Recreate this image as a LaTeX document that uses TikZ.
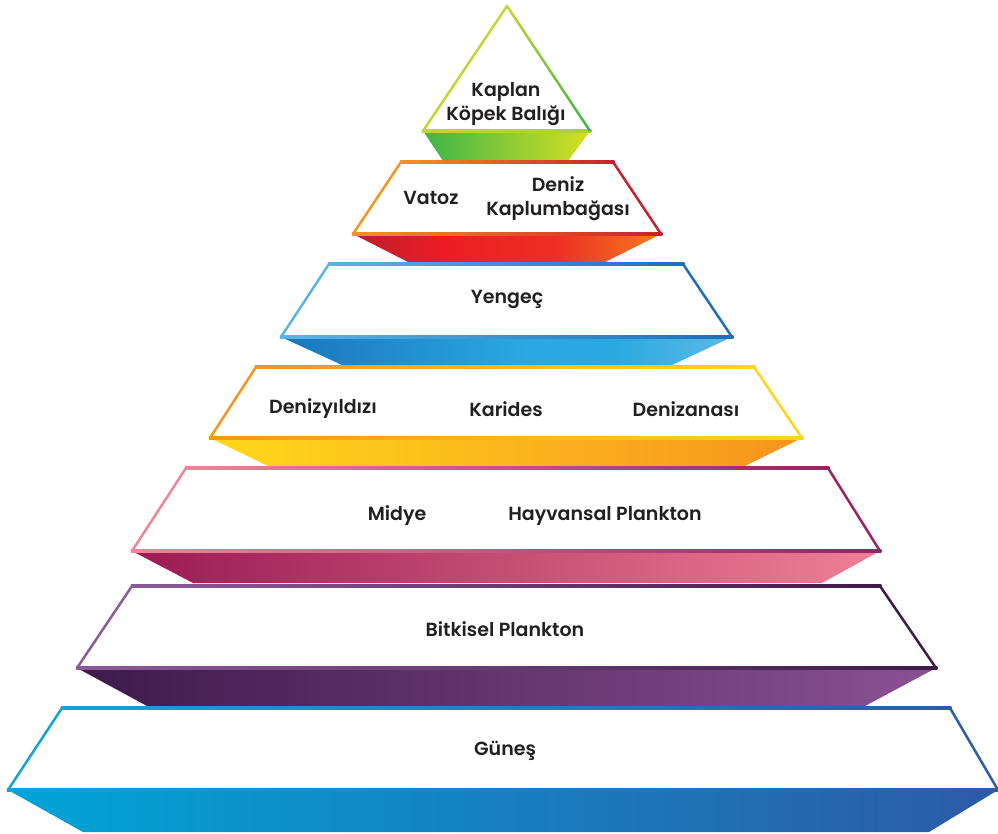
\documentclass[tikz,border=0pt]{standalone}
\usepackage{fontspec}
\setmainfont{Poppins}[BoldFont={Poppins SemiBold}]
\definecolor{txt}{HTML}{231F20}
% level 1 (green)
\definecolor{gA}{HTML}{3DB54A}\definecolor{gB}{HTML}{D7DF23}\definecolor{gL}{HTML}{C2D62E}
% level 2 (red)
\definecolor{rA}{HTML}{BE1E2D}\definecolor{rB}{HTML}{ED1C24}\definecolor{rC}{HTML}{F47B20}
\definecolor{rL}{HTML}{F7941D}\definecolor{rR}{HTML}{C8202F}
% level 3 (blue)
\definecolor{bA}{HTML}{1B75BB}\definecolor{bB}{HTML}{29A9E0}\definecolor{bC}{HTML}{5DB9E7}
\definecolor{bL}{HTML}{5BB4E5}\definecolor{bR}{HTML}{1C6FB8}
% level 4 (yellow)
\definecolor{yA}{HTML}{FFD91A}\definecolor{yC}{HTML}{F7941D}
\definecolor{yL}{HTML}{F7941D}\definecolor{yR}{HTML}{FFD51C}
% level 5 (magenta)
\definecolor{mA}{HTML}{9B1B53}\definecolor{mC}{HTML}{F07F95}
\definecolor{mL}{HTML}{F08497}\definecolor{mR}{HTML}{9E1F63}
% level 6 (purple)
\definecolor{pA}{HTML}{3E1A4C}\definecolor{pC}{HTML}{8A5193}
\definecolor{pL}{HTML}{8B5A9A}\definecolor{pR}{HTML}{3F1A4A}
% level 7 (sea blue)
\definecolor{cA}{HTML}{00A5D6}\definecolor{cC}{HTML}{2D5AA6}
\definecolor{cL}{HTML}{12A3D8}\definecolor{cR}{HTML}{2B5DA8}
\pgfdeclarehorizontalshading{redsh}{100bp}{color(0bp)=(rA); color(25bp)=(rA); color(40bp)=(rB); color(58bp)=(rB!80!rC); color(75bp)=(rC); color(100bp)=(rC)}
\pgfdeclarehorizontalshading{bluesh}{100bp}{color(0bp)=(bA); color(25bp)=(bA); color(52bp)=(bB); color(62bp)=(bB); color(75bp)=(bC); color(100bp)=(bC)}
\tikzset{
  lbl/.style={text=txt, font=\fontsize{19}{24}\selectfont\bfseries, align=center, inner sep=0pt},
  edge/.style={line width=2.5pt, line cap=round}
}
\newcommand\pyrlevel[4]{%
  \shade[#4] (#1ml) -- (#1mr) -- (#1br) -- (#1bl) -- cycle;
  \fill[white] (#1tl) -- (#1tr) -- (#1mr) -- (#1ml) -- cycle;
  \shade[left color=#2, right color=#3] ([shift={(-1.25,-1.25)}]#1tl) rectangle ([shift={(1.25,1.25)}]#1tr);
  \shade[left color=#2, right color=#3] ([shift={(-1.25,-1.25)}]#1ml) rectangle ([shift={(1.25,1.25)}]#1mr);
  \draw[#2, edge] (#1tl) -- (#1ml);
  \draw[#3, edge] (#1tr) -- (#1mr);
}
\begin{document}
\begin{tikzpicture}[x=1pt, y=-1pt]
\useasboundingbox (0,0) rectangle (998,833);
% ---------- coordinates ----------
% level A (triangle)
\coordinate (Aap) at (507,6);
\coordinate (Aml) at (423,131); \coordinate (Amr) at (590,131);
\coordinate (Abl) at (443,161); \coordinate (Abr) at (568,161);
% level B
\coordinate (Btl) at (401,162); \coordinate (Btr) at (613,162);
\coordinate (Bml) at (353,234); \coordinate (Bmr) at (661,234);
\coordinate (Bbl) at (410,263); \coordinate (Bbr) at (603,263);
% level C
\coordinate (Ctl) at (329,264); \coordinate (Ctr) at (683,264);
\coordinate (Cml) at (281,337); \coordinate (Cmr) at (732,337);
\coordinate (Cbl) at (342,365); \coordinate (Cbr) at (672,365);
% level D
\coordinate (Dtl) at (256,367); \coordinate (Dtr) at (754,367);
\coordinate (Dml) at (210,438); \coordinate (Dmr) at (802,438);
\coordinate (Dbl) at (270,467); \coordinate (Dbr) at (743,467);
% level E
\coordinate (Etl) at (186,468); \coordinate (Etr) at (828,468);
\coordinate (Eml) at (132,551); \coordinate (Emr) at (880,551);
\coordinate (Ebl) at (193,583); \coordinate (Ebr) at (822,583);
% level F
\coordinate (Ftl) at (132,586); \coordinate (Ftr) at (880,586);
\coordinate (Fml) at (77,668);  \coordinate (Fmr) at (936,668);
\coordinate (Fbl) at (147,706); \coordinate (Fbr) at (865,706);
% level G
\coordinate (Gtl) at (62,708);  \coordinate (Gtr) at (950,708);
\coordinate (Gml) at (8,790);   \coordinate (Gmr) at (998,790);
\coordinate (Gbl) at (83,832);  \coordinate (Gbr) at (929,832);
% ---------- levels ----------
% triangle
\shade[left color=gA, right color=gB] (Aml) -- (Amr) -- (Abr) -- (Abl) -- cycle;
\fill[white] (Aap) -- (Amr) -- (Aml) -- cycle;
\shade[left color=gL, right color=gB!70!gA] ([shift={(-1.25,-1.25)}]Aml) rectangle ([shift={(1.25,1.25)}]Amr);
\draw[gL, edge] (Aap) -- (Aml);
\shade[top color=gL, bottom color=gA] ([xshift=-1.5pt]Aap) -- ([xshift=1.5pt]Aap) -- ([xshift=1.5pt]Amr) -- ([xshift=-1.5pt]Amr) -- cycle;
\pyrlevel{B}{rL}{rR}{shading=redsh}
\pyrlevel{C}{bL}{bR}{shading=bluesh}
\pyrlevel{D}{yL}{yR}{left color=yA, right color=yC}
\pyrlevel{E}{mL}{mR}{left color=mA, right color=mC}
\pyrlevel{F}{pL}{pR}{left color=pA, right color=pC}
\pyrlevel{G}{cL}{cR}{left color=cA, right color=cC}
% ---------- labels ----------
\node[lbl] (kaplan) at (506,104) {Kaplan\\Köpek Balığı};
\node[lbl] (vatoz) at (431,198) {Vatoz};
\node[lbl] (kaplumbaga) at (558,199) {Deniz\\Kaplumbağası};
\node[lbl] (yengec) at (507,299) {Yengeç};
\node[lbl] (denizyildizi) at (323,409) {Denizyıldızı};
\node[lbl] (karides) at (506,409) {Karides};
\node[lbl] (denizanasi) at (686,409) {Denizanası};
\node[lbl] (midye) at (397,516) {Midye};
\node[lbl] (hayvansal) at (605,516) {Hayvansal Plankton};
\node[lbl] (bitkisel) at (505,629) {Bitkisel Plankton};
\node[lbl] (gunes) at (505,751) {Güneş};
\end{tikzpicture}
\end{document}
